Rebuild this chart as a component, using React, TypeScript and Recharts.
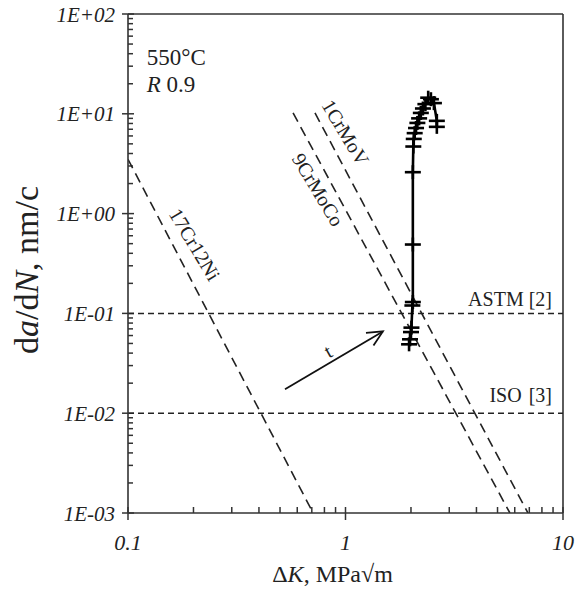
import React from "react";
import {
  ComposedChart,
  Line,
  XAxis,
  YAxis,
  ReferenceLine,
  ReferenceDot,
} from "recharts";

// test data: crack growth rate vs stress intensity range
const testDK = [1.96, 1.98, 2.0, 2.01, 2.03, 2.04, 2.04, 2.04, 2.05, 2.06, 2.08, 2.11, 2.14, 2.18, 2.22, 2.27, 2.33, 2.4, 2.47, 2.55, 2.63, 2.63];
const testRate = [0.049, 0.055, 0.065, 0.072, 0.12, 0.13, 0.49, 2.6, 4.7, 5.6, 6.4, 7.2, 8.1, 9.0, 10.2, 11.3, 12.5, 14.5, 14.0, 12.8, 8.5, 7.4];

// reference lines for the steels (end points)
const cr17DK = [0.1, 0.71];
const cr17Rate = [3.5, 0.001];
const cr9DK = [0.574, 5.7];
const cr9Rate = [10.2, 0.001];
const cr1DK = [0.724, 6.9];
const cr1Rate = [10.2, 0.001];

const astmRate = 0.1;
const isoRate = 0.01;

const xMajor = [0.1, 1, 10];
const xMajorLabels = ["0.1", "1", "10"];
const yMajor = [0.001, 0.01, 0.1, 1, 10, 100];
const yMajorLabels = ["1E-03", "1E-02", "1E-01", "1E+00", "1E+01", "1E+02"];
const minorSteps = [2, 3, 4, 5, 6, 7, 8, 9];

const arrowFrom = { x: 0.527, y: 0.0174 };
const arrowTo = { x: 1.486, y: 0.066 };

const toPts = (xs: number[], ys: number[]) => xs.map((x, i) => ({ x, y: ys[i] }));
const testData = toPts(testDK, testRate);
const cr17 = toPts(cr17DK, cr17Rate);
const cr9 = toPts(cr9DK, cr9Rate);
const cr1 = toPts(cr1DK, cr1Rate);

const withMinors = (majors: number[]) => {
  const out: number[] = [];
  majors.forEach((m, i) => {
    out.push(m);
    if (i < majors.length - 1) minorSteps.forEach((s) => out.push(m * s));
  });
  return out;
};
const xTicks = withMinors(xMajor);
const yTicks = withMinors(yMajor);

const SERIF = "'Liberation Serif', 'Times New Roman', serif";
const AXIS = "#333";

const majorIndex = (list: number[], v: number) =>
  list.findIndex((m) => Math.abs(Math.log10(m) - Math.log10(v)) < 1e-6);

const YTick = (p: any) => {
  const { x, y, payload } = p;
  const i = majorIndex(yMajor, payload.value);
  if (i < 0) return <g />;
  return (
    <text x={x - 13} y={y} dy="0.36em" textAnchor="end" fontFamily={SERIF} fontStyle="italic" fontSize={21} fill="#222">
      {yMajorLabels[i]}
    </text>
  );
};

const XTick = (p: any) => {
  const { x, y, payload } = p;
  const i = majorIndex(xMajor, payload.value);
  if (i < 0) return <g />;
  return (
    <text x={x} y={y + 37} textAnchor="middle" fontFamily={SERIF} fontStyle="italic" fontSize={22} fill="#222">
      {xMajorLabels[i]}
    </text>
  );
};

// tick marks drawn at the left / bottom edge of the plot
const YTickMark = (p: any) => {
  const left = Math.min(p.x1, p.x2);
  const major = p.major;
  return <line x1={major ? left - 6 : left} x2={left + (major ? 6 : 5)} y1={p.y1} y2={p.y1} stroke={AXIS} strokeWidth={1.5} />;
};
const XTickMark = (p: any) => {
  const bottom = Math.max(p.y1, p.y2);
  const major = p.major;
  return <line x1={p.x1} x2={p.x1} y1={major ? bottom + 7 : bottom} y2={bottom - 6} stroke={AXIS} strokeWidth={1.5} />;
};

const PlusDot = (p: any) => {
  const { cx, cy, index } = p;
  if (cx == null || cy == null) return <g key={index} />;
  return (
    <g key={index}>
      <line x1={cx - 8} x2={cx + 8} y1={cy} y2={cy} stroke="#000" strokeWidth={2.6} />
      <line x1={cx} x2={cx} y1={cy - 7} y2={cy + 7} stroke="#000" strokeWidth={2.6} />
    </g>
  );
};

const ArrowShape = (p: any) => {
  const { x1, y1, x2, y2 } = p;
  const a = Math.atan2(y2 - y1, x2 - x1);
  const L = 17;
  const s = 0.45;
  const hx1 = x2 - L * Math.cos(a - s);
  const hy1 = y2 - L * Math.sin(a - s);
  const hx2 = x2 - L * Math.cos(a + s);
  const hy2 = y2 - L * Math.sin(a + s);
  return (
    <g>
      <line x1={x1} y1={y1} x2={x2} y2={y2} stroke="#111" strokeWidth={1.8} />
      <polyline points={`${hx1},${hy1} ${x2},${y2} ${hx2},${hy2}`} fill="none" stroke="#111" strokeWidth={1.8} />
    </g>
  );
};

const note = (
  key: string,
  x: number,
  y: number,
  content: React.ReactNode,
  opts: { rotate?: number; anchor?: string; size?: number; dy?: number } = {}
) => (
  <ReferenceDot
    key={key}
    x={x}
    y={y}
    r={0}
    fill="none"
    stroke="none"
    label={{
      content: (lp: any) => {
        const vb = lp.viewBox || {};
        const tx = vb.x ?? 0;
        const ty = vb.y ?? 0;
        return (
          <text
            x={tx}
            y={ty}
            dy={opts.dy ?? 0}
            textAnchor={opts.anchor ?? "middle"}
            fontFamily={SERIF}
            fontSize={opts.size ?? 20}
            fill="#222"
            transform={opts.rotate ? `rotate(${opts.rotate} ${tx} ${ty})` : undefined}
          >
            {content}
          </text>
        );
      },
    }}
  />
);

export default function App() {
  return (
    <div style={{ position: "absolute", left: 0, top: 0 }}>
      <ComposedChart width={584} height={594} margin={{ top: 14, right: 21, bottom: 0, left: 0 }}>
        <XAxis
          dataKey="x"
          type="number"
          scale="log"
          domain={[0.1, 10]}
          allowDataOverflow
          ticks={xTicks}
          interval={0}
          height={81}
          tickSize={0}
          tickMargin={0}
          tickLine={false}
          tick={(p: any) => <XTick {...p} />}
          axisLine={{ stroke: AXIS, strokeWidth: 1.6 }}
          label={{
            content: (lp: any) => {
              const vb = lp.viewBox;
              return (
                <text x={vb.x + vb.width / 2 - 13} y={vb.y + 69} textAnchor="middle" fontFamily={SERIF} fontSize={24} fill="#222">
                  Δ<tspan fontStyle="italic">K</tspan>, MPa√m
                </text>
              );
            },
          }}
        />
        <YAxis
          dataKey="y"
          type="number"
          scale="log"
          domain={[0.001, 100]}
          allowDataOverflow
          ticks={yTicks}
          interval={0}
          width={128}
          tickSize={0}
          tickMargin={0}
          tickLine={false}
          tick={(p: any) => <YTick {...p} />}
          axisLine={{ stroke: AXIS, strokeWidth: 1.6 }}
          label={{
            content: () => (
              <text x={38} y={270} textAnchor="middle" fontFamily={SERIF} fontSize={34} fill="#222" transform="rotate(-90 38 270)">
                d<tspan fontStyle="italic">a</tspan>/d<tspan fontStyle="italic">N</tspan>, nm/c
              </text>
            ),
          }}
        />
        {yTicks.map((v) => (
          <ReferenceLine key={`yt${v}`} y={v} ifOverflow="visible" shape={<YTickMark major={majorIndex(yMajor, v) >= 0} />} />
        ))}
        {xTicks.map((v) => (
          <ReferenceLine key={`xt${v}`} x={v} ifOverflow="visible" shape={<XTickMark major={majorIndex(xMajor, v) >= 0} />} />
        ))}
        <ReferenceLine y={100} stroke={AXIS} strokeWidth={1.6} ifOverflow="visible" />
        <ReferenceLine x={10} stroke={AXIS} strokeWidth={1.6} ifOverflow="visible" />
        <ReferenceLine y={astmRate} stroke="#222" strokeWidth={1.5} strokeDasharray="6 4" />
        <ReferenceLine y={isoRate} stroke="#222" strokeWidth={1.5} strokeDasharray="6 4" />
        <Line data={cr17} dataKey="y" name="17Cr12Ni" stroke="#222" strokeWidth={1.6} strokeDasharray="10 6" dot={false} isAnimationActive={false} />
        <Line data={cr9} dataKey="y" name="9CrMoCo" stroke="#222" strokeWidth={1.6} strokeDasharray="10 6" dot={false} isAnimationActive={false} />
        <Line data={cr1} dataKey="y" name="1CrMoV" stroke="#222" strokeWidth={1.6} strokeDasharray="10 6" dot={false} isAnimationActive={false} />
        <Line data={testData} dataKey="y" name="test" stroke="#000" strokeWidth={2.6} dot={<PlusDot />} isAnimationActive={false} />
        <ReferenceLine segment={[arrowFrom, arrowTo]} shape={<ArrowShape />} />
        {note("cr1", 1.0, 6.5, "1CrMoV", { rotate: 59, dy: 7 })}
        {note("cr9", 0.748, 1.74, "9CrMoCo", { rotate: 59, dy: 7 })}
        {note("cr17", 0.203, 0.49, "17Cr12Ni", { rotate: 59, dy: 7 })}
        {note("t", 0.83, 0.042, "t", { rotate: -30, dy: 7 })}
        {note("astm", 8.9, astmRate, "ASTM [2]", { anchor: "end", dy: -7 })}
        {note("iso", 8.9, isoRate, <>ISO<tspan dx={7}>[3]</tspan></>, { anchor: "end", dy: -11 })}
        {note("temp", 0.122, 31, "550°C", { anchor: "start", size: 23 })}
        {note("r", 0.122, 16.6, <><tspan fontStyle="italic">R</tspan> 0.9</>, { anchor: "start", size: 23 })}
      </ComposedChart>
    </div>
  );
}
